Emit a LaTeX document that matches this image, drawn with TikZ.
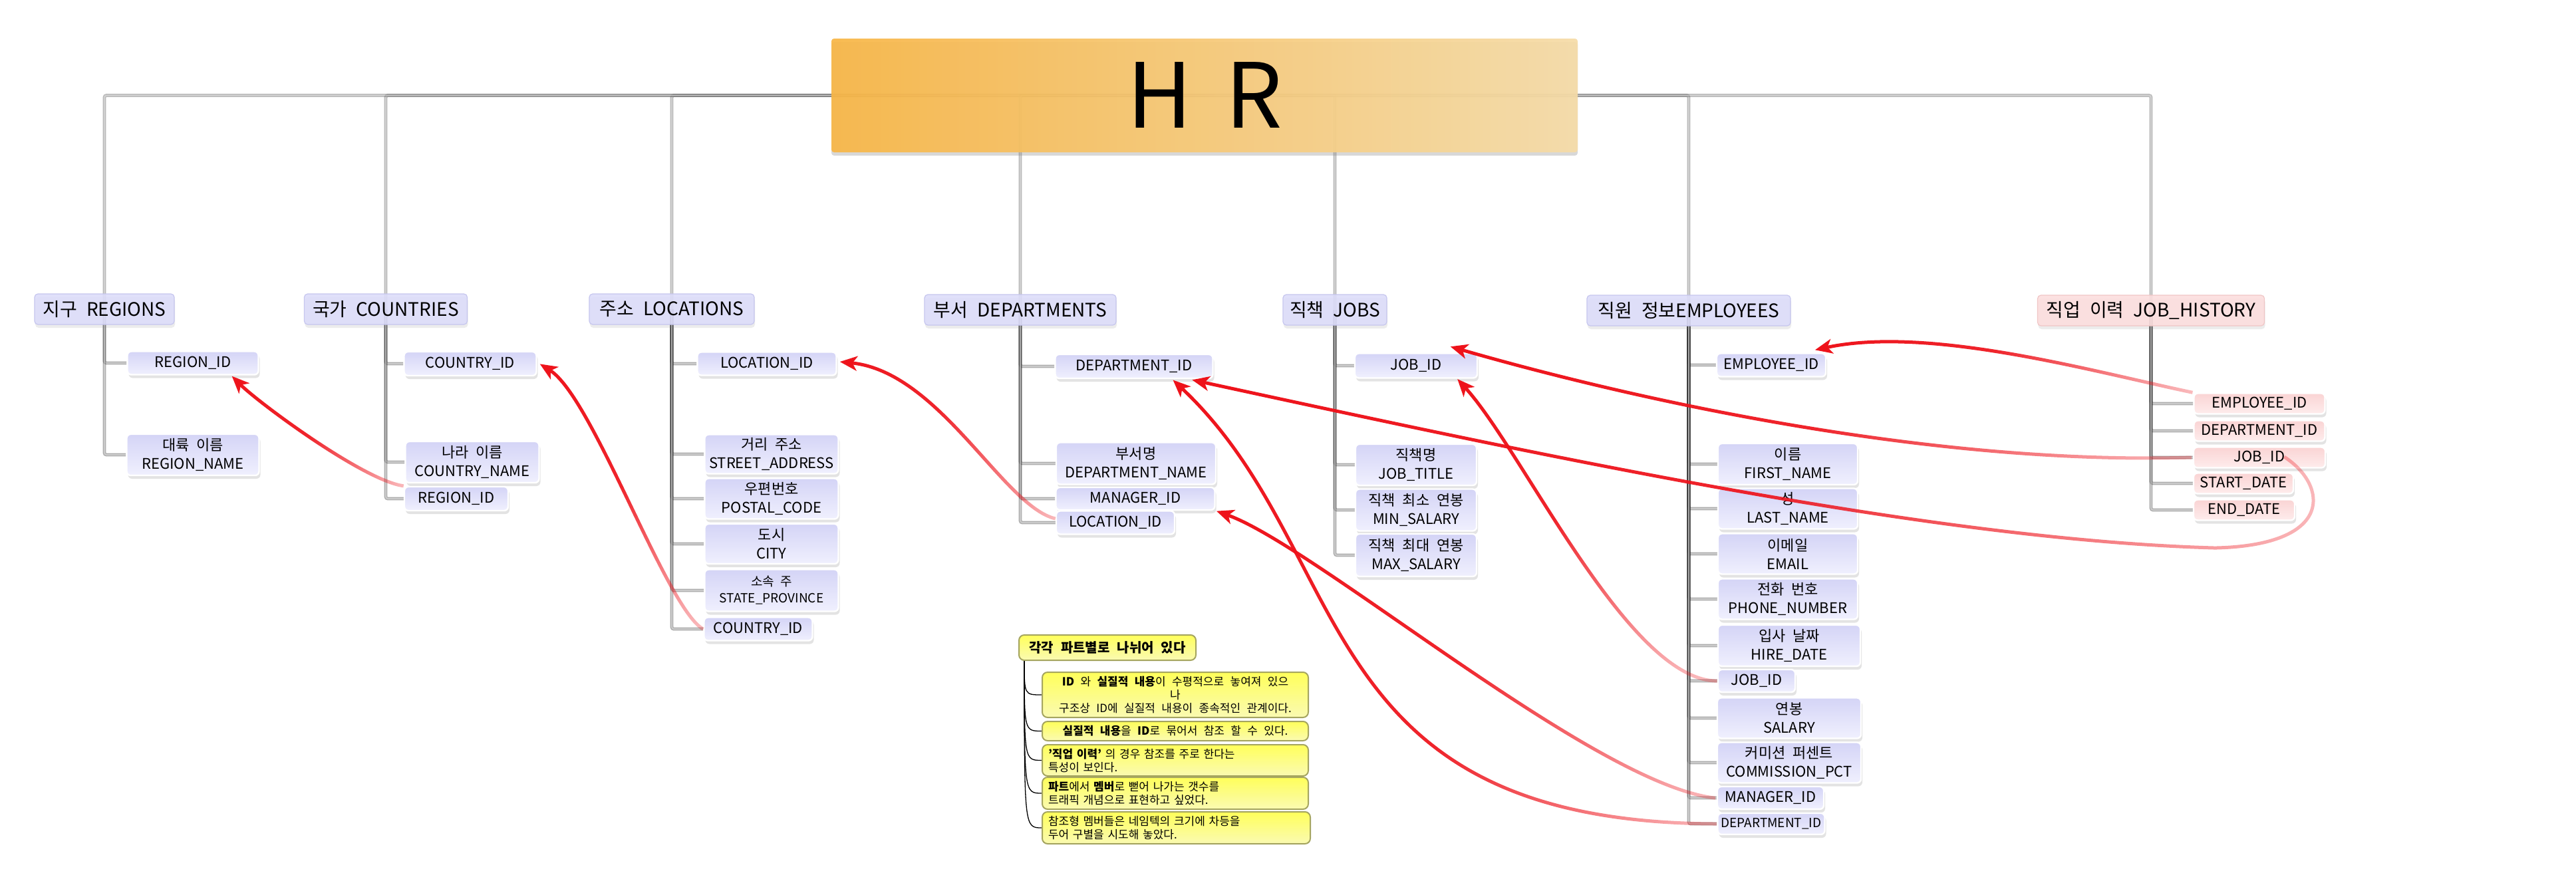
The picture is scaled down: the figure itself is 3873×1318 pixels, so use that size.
\documentclass[tikz,border=0pt]{standalone}
\usepackage{fontspec}
\setmainfont{Noto Sans CJK KR}
\usetikzlibrary{shadows,arrows.meta,fadings,calc}
\definecolor{hdrF}{RGB}{221,221,250}
\definecolor{hdrD}{RGB}{198,198,238}
\definecolor{fTop}{RGB}{212,212,246}
\definecolor{fBot}{RGB}{240,240,254}
\definecolor{pkF}{RGB}{252,222,222}
\definecolor{pkD}{RGB}{240,198,198}
\definecolor{pTop}{RGB}{250,212,212}
\definecolor{pBot}{RGB}{254,236,236}
\definecolor{hrL}{RGB}{248,182,70}
\definecolor{hrR}{RGB}{246,220,168}
\definecolor{yTop}{RGB}{255,255,90}
\definecolor{yBot}{RGB}{250,250,178}
\definecolor{yBd}{RGB}{165,165,95}
\definecolor{refred}{RGB}{238,18,26}
\tikzfading[name=fadeE, left color=transparent!0, right color=transparent!72, middle color=transparent!8]
\tikzfading[name=fadeS, top color=transparent!0, bottom color=transparent!72, middle color=transparent!8]
\pgfdeclarelayer{bg}
\pgfsetlayers{bg,main}
\newcommand\hdrfont{\fontsize{28pt}{33pt}\selectfont}
\newcommand\fldfont{\fontsize{22pt}{28pt}\selectfont\spaceskip=0.5em\relax}
\newcommand\smfont{\fontsize{19pt}{25pt}\selectfont\spaceskip=0.5em\relax}
\newcommand\notefont{\fontsize{17pt}{20pt}\selectfont\spaceskip=0.55em\relax}
\newcommand\ntitlefont{\fontsize{20pt}{24pt}\selectfont\bfseries\spaceskip=0.55em\relax}
\newcommand\hgap{\hspace{14pt}}
\begin{document}
\begin{tikzpicture}[x=1pt,y=-1pt,
  hdr/.style={rounded corners=5pt, draw=hdrD, line width=1.2pt, fill=hdrF, fill opacity=0.9, text opacity=1, inner sep=0pt, minimum height=46pt, font=\hdrfont, drop shadow={shadow xshift=1pt, shadow yshift=-5pt, opacity=0.15}},
  phdr/.style={hdr, draw=pkD, fill=pkF},
  fld/.style={rounded corners=6pt, draw=white, line width=2.4pt, top color=fTop, bottom color=fBot, inner sep=0pt, align=center, font=\fldfont, drop shadow={shadow xshift=2pt, shadow yshift=-5pt, opacity=0.22}},
  pfld/.style={fld, top color=pTop, bottom color=pBot},
  bus/.style={draw=black!75, double=white, double distance=2.2pt, line width=1.3pt, rounded corners=3pt, draw opacity=0.38},
  col/.style={draw=black!85, double=white, double distance=2pt, line width=1.4pt, rounded corners=3pt, draw opacity=0.38},
  ref/.style={draw=refred, line width=5pt, -{Stealth[length=26pt,width=22pt,inset=7pt]}},
  refE/.style={ref, path fading=fadeE},
  refS/.style={ref, path fading=fadeS},
  nbox/.style={rounded corners=8pt, draw=yBd, line width=2pt, top color=yTop, bottom color=yBot, inner sep=0pt, font=\notefont},
  nl/.style={draw=black, line width=1.3pt}]
\useasboundingbox (0,0) rectangle (3873,1318);

% title
\node[rounded corners=4pt, left color=hrL, right color=hrR, minimum width=1122pt, minimum height=171pt, inner sep=0pt, font=\fontsize{135pt}{140pt}\selectfont, drop shadow={shadow xshift=0pt, shadow yshift=-5pt, opacity=0.3}, fill opacity=0.93, text opacity=1] (hr) at (1811,143.5) {H\hspace{50pt}R};

% headers
\node[hdr, minimum width=210pt] (hreg) at (157,465) {지구\hgap REGIONS};
\node[hdr, minimum width=245pt] (hcou) at (580,465) {국가\hgap COUNTRIES};
\node[hdr, minimum width=248pt] (hloc) at (1010,465) {주소\hgap LOCATIONS};
\node[hdr, minimum width=288pt] (hdep) at (1534,466) {부서\hgap DEPARTMENTS};
\node[hdr, minimum width=156pt] (hjob) at (2007,466) {직책\hgap JOBS};
\node[hdr, minimum width=306pt] (hemp) at (2539,467) {직원\hgap 정보EMPLOYEES};
\node[phdr, minimum width=341pt] (hjh) at (3234,467) {직업\hgap 이력\hgap JOB\_HISTORY};

% REGIONS
\node[fld, minimum width=197pt, minimum height=35pt] (r1) at (290,546) {REGION\_ID};
\node[fld, minimum width=199pt, minimum height=62pt] (r2) at (290,684) {대륙 이름\\REGION\_NAME};
% COUNTRIES
\node[fld, minimum width=199pt, minimum height=36pt] (c1) at (707,547) {COUNTRY\_ID};
\node[fld, minimum width=201pt, minimum height=62pt] (c2) at (710,695) {나라 이름\\COUNTRY\_NAME};
\node[fld, minimum width=156pt, minimum height=36pt] (c3) at (686,750) {REGION\_ID};
% LOCATIONS
\node[fld, minimum width=209pt, minimum height=35pt] (l1) at (1153,547) {LOCATION\_ID};
\node[fld, minimum width=201pt, minimum height=59pt] (l2) at (1160,683) {거리 주소\\STREET\_ADDRESS};
\node[fld, minimum width=201pt, minimum height=61pt] (l3) at (1160,750) {우편번호\\POSTAL\_CODE};
\node[fld, minimum width=201pt, minimum height=60pt] (l4) at (1160,818) {도시\\CITY};
\node[fld, minimum width=201pt, minimum height=63pt, font=\smfont] (l5) at (1160,888) {소속 주\\STATE\_PROVINCE};
\node[fld, minimum width=163pt, minimum height=35pt] (l6) at (1140,946) {COUNTRY\_ID};
% DEPARTMENTS
\node[fld, minimum width=237pt, minimum height=36pt] (d1) at (1705,551) {DEPARTMENT\_ID};
\node[fld, minimum width=240pt, minimum height=63pt] (d2) at (1708,697) {부서명\\DEPARTMENT\_NAME};
\node[fld, minimum width=239pt, minimum height=34pt] (d3) at (1707,750) {MANAGER\_ID};
\node[fld, minimum width=178pt, minimum height=35pt] (d4) at (1677,786) {LOCATION\_ID};
% JOBS
\node[fld, minimum width=184pt, minimum height=37pt] (j1) at (2129,550) {JOB\_ID};
\node[fld, minimum width=182pt, minimum height=62pt] (j2) at (2129,699) {직책명\\JOB\_TITLE};
\node[fld, minimum width=182pt, minimum height=63pt] (j3) at (2129,767) {직책 최소 연봉\\MIN\_SALARY};
\node[fld, minimum width=182pt, minimum height=64pt] (j4) at (2129,835) {직책 최대 연봉\\MAX\_SALARY};
% EMPLOYEES
\node[fld, minimum width=164pt, minimum height=35pt] (e1) at (2663,549) {EMPLOYEE\_ID};
\node[fld, minimum width=210pt, minimum height=62pt] (e2) at (2688,698) {이름\\FIRST\_NAME};
\node[fld, minimum width=210pt, minimum height=61pt] (e3) at (2688,765) {성\\LAST\_NAME};
\node[fld, minimum width=210pt, minimum height=61pt] (e4) at (2688,833) {이메일\\EMAIL};
\node[fld, minimum width=210pt, minimum height=61pt] (e5) at (2688,901) {전화 번호\\PHONE\_NUMBER};
\node[fld, minimum width=214pt, minimum height=62pt] (e6) at (2690,971) {입사 날짜\\HIRE\_DATE};
\node[fld, minimum width=116pt, minimum height=34pt] (e7) at (2641,1024) {JOB\_ID};
\node[fld, minimum width=216pt, minimum height=61pt] (e8) at (2690,1080) {연봉\\SALARY};
\node[fld, minimum width=216pt, minimum height=61pt] (e9) at (2690,1147) {커미션 퍼센트\\COMMISSION\_PCT};
\node[fld, minimum width=160pt, minimum height=34pt] (e10) at (2662,1200) {MANAGER\_ID};
\node[fld, minimum width=161pt, minimum height=32pt, font=\smfont] (e11) at (2663,1239) {DEPARTMENT\_ID};
% JOB_HISTORY
\node[pfld, minimum width=197pt, minimum height=31pt] (h1) at (3397,607) {EMPLOYEE\_ID};
\node[pfld, minimum width=197pt, minimum height=31pt] (h2) at (3397,648) {DEPARTMENT\_ID};
\node[pfld, minimum width=198pt, minimum height=31pt] (h3) at (3397,688) {JOB\_ID};
\node[pfld, minimum width=150pt, minimum height=31pt] (h4) at (3373,727) {START\_DATE};
\node[pfld, minimum width=152pt, minimum height=31pt] (h5) at (3374,767) {END\_DATE};

% notes
\node[nbox, minimum width=266pt, minimum height=38pt, font=\ntitlefont] (n0) at (1665,974) {각각 파트별로 나뉘어 있다};
\node[nbox, minimum width=400pt, minimum height=68pt, align=center] (n1) at (1767,1045) {\textbf{ID} 와 \textbf{실질적 내용}이 수평적으로 놓여져 있으\\나\\구조상 ID에 실질적 내용이 종속적인 관계이다.};
\node[nbox, minimum width=400pt, minimum height=29pt] (n2) at (1767,1099.5) {\textbf{실질적 내용}을 \textbf{ID}로 묶어서 참조 할 수 있다.};
\node[nbox, minimum width=400pt, minimum height=47pt, text width=382pt, align=left] (n3) at (1767,1143.5) {\textbf{'직업 이력'} 의 경우 참조를 주로 한다는\\특성이 보인다.};
\node[nbox, minimum width=400pt, minimum height=48pt, text width=382pt, align=left] (n4) at (1767,1193) {\textbf{파트}에서 \textbf{멤버}로 뻗어 나가는 갯수를\\트래픽 개념으로 표현하고 싶었다.};
\node[nbox, minimum width=403pt, minimum height=48pt, text width=385pt, align=left] (n5) at (1768.5,1245) {참조형 멤버들은 네임텍의 크기에 차등을\\두어 구별을 시도해 놓았다.};

\begin{pgfonlayer}{bg}
\fill[white] (0,0) rectangle (3873,1318);
\foreach \h in {hloc,hcou,hreg,hdep,hjob,hemp,hjh} \draw[bus] (hr.center) -| (\h.center);
\foreach \c in {r1,r2} \draw[col] (hreg.center) |- (\c.west);
\foreach \c in {c1,c2,c3} \draw[col] (hcou.center) |- (\c.west);
\foreach \c in {l1,l2,l3,l4,l5,l6} \draw[col] (hloc.center) |- (\c.west);
\foreach \c in {d1,d2,d3,d4} \draw[col] (hdep.center) |- (\c.west);
\foreach \c in {j1,j2,j3,j4} \draw[col] (hjob.center) |- (\c.west);
\foreach \c in {e1,e2,e3,e4,e5,e6,e7,e8,e9,e10,e11} \draw[col] (hemp.center) |- (\c.west);
\foreach \c in {h1,h2,h3,h4,h5} \draw[col] (hjh.center) |- (\c.west);
\coordinate (nroot) at ($(n0.south west)+(9,0)$);
\foreach \c in {n1,n2,n3,n4,n5} \draw[nl] (nroot) .. controls (nroot |- \c.west) .. (\c.west);
\end{pgfonlayer}

% reference arrows
\coordinate (a1) at ($(r1.south east)+(-41,1)$);
\coordinate (a2) at ($(c1.east)+(4,0)$);
\coordinate (a3) at ($(l1.east)+(4,-3)$);
\coordinate (a4) at ($(d1.south east)+(-61,1)$);
\coordinate (a5) at ($(d1.south east)+(-32,1)$);
\coordinate (a6) at ($(j1.south east)+(-31,0)$);
\coordinate (a7) at ($(j1.north east)+(-41,-9)$);
\coordinate (a8) at ($(e1.north east)+(-17,-4)$);
\coordinate (a9) at ($(d3.south east)+(2,0)$);
\coordinate (t5) at ($(h3.east)+(-62,-1)$);

\draw[refE] ($(a1)+(-30,-30)$) ($(a1)+(30,30)$) (c3.north west) .. controls ($(c3.north west)+(-60,-8)$) and ($(a1)+(40,40)$) .. (a1);
\draw[refS] ($(a2)+(-30,-30)$) ($(a2)+(30,30)$) (l6.west) .. controls ($(l6.west)+(-55,-30)$) and ($(a2)+(80,50)$) .. (a2);
\draw[refE] ($(a3)+(-30,-30)$) ($(a3)+(30,30)$) ($(d4.west)+(0,-6)$) .. controls ($(d4.west)+(-78,-24)$) and ($(a3)+(150,15)$) .. (a3);
\draw[refE] ($(a4)+(-30,-30)$) ($(a4)+(30,30)$) (e11.west) .. controls ($(e11.west)+(-618,-2)$) and ($(a4)+(277,260)$) .. (a4);
\draw[refE] ($(a5)+(-30,-30)$) ($(a5)+(30,30)$) (t5) .. controls ($(h3.east)+(4,42)$) and ($(h3.east)+(14,132)$) .. ($(h3.east)+(-166,136)$) .. controls ($(h3.east)+(-596,124)$) and ($(a5)+(508,110)$) .. (a5);
\draw[refS] ($(a6)+(-30,-30)$) ($(a6)+(30,30)$) (e7.west) .. controls ($(e7.west)+(-133,0)$) and ($(a6)+(100,110)$) .. (a6);
\draw[refE] ($(a7)+(-30,-30)$) ($(a7)+(30,30)$) (h3.west) .. controls ($(h3.west)+(-398,12)$) and ($(a7)+(270,78)$) .. (a7);
\draw[refE] ($(a8)+(-30,-30)$) ($(a8)+(30,30)$) (h1.north west) .. controls ($(h1.north west)+(-148,-31)$) and ($(a8)+(172,-37)$) .. (a8);
\draw[refE] ($(a9)+(-30,-30)$) ($(a9)+(30,30)$) (e10.west) .. controls ($(e10.west)+(-182,-20)$) and ($(a9)+(151,54)$) .. (a9);
\end{tikzpicture}
\end{document}
